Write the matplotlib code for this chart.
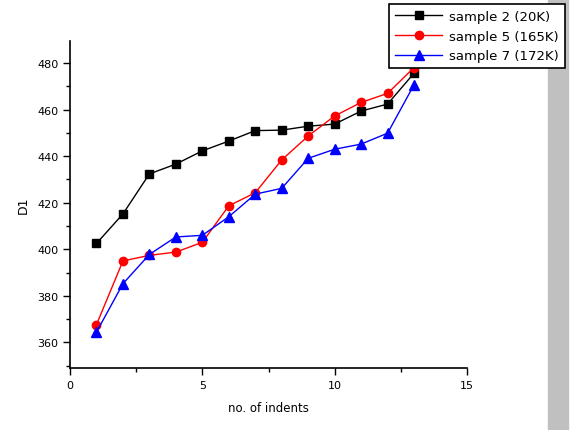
import matplotlib
matplotlib.use("Agg")
import matplotlib.pyplot as plt
from matplotlib.patches import Rectangle
from matplotlib.ticker import MultipleLocator

indents = [1, 2, 3, 4, 5, 6, 7, 8, 9, 10, 11, 12, 13]
sample2 = [402.5, 415.2, 432.4, 436.6, 442.3, 446.5, 451.0, 451.2, 452.9, 453.8, 459.4, 462.4, 475.7]
sample5 = [367.6, 395.0, 397.4, 398.8, 403.0, 418.7, 424.3, 438.4, 448.7, 457.3, 463.1, 467.0, 478.1]
sample7 = [364.4, 385.2, 397.8, 405.3, 406.0, 414.0, 423.7, 426.2, 439.1, 443.0, 445.2, 449.9, 470.7]

plt.rcParams['font.family'] = ['DejaVu Sans']
fig = plt.figure(figsize=(5.76, 4.31), dpi=100)
ax = fig.add_axes([70 / 576, 62 / 431, 397 / 576, 327 / 431])

# grey strip on the right edge
fig.patches.append(Rectangle((548 / 576, 0), 20 / 576, 1, transform=fig.transFigure,
                             color='#c0c0c0', zorder=0))

ax.plot(indents, sample2, color='black', marker='s', markersize=6, lw=1, label='sample 2 (20K)')
ax.plot(indents, sample5, color='red', marker='o', markersize=6, lw=1, label='sample 5 (165K)')
ax.plot(indents, sample7, color='blue', marker='^', markersize=7, lw=1, label='sample 7 (172K)')

ax.set_xlim(0, 15)
ax.set_ylim(349, 489.5)
ax.xaxis.set_major_locator(MultipleLocator(5))
ax.xaxis.set_minor_locator(MultipleLocator(2.5))
ax.yaxis.set_major_locator(MultipleLocator(20))
ax.yaxis.set_minor_locator(MultipleLocator(10))
ax.tick_params(which='major', direction='out', length=5, width=1, labelsize=8)
ax.tick_params(which='minor', direction='out', length=3, width=1)
ax.spines['top'].set_visible(False)
ax.spines['right'].set_visible(False)
for s in ('left', 'bottom'):
    ax.spines[s].set_linewidth(1.2)

ax.set_xlabel('no. of indents', fontsize=8.5, labelpad=8)
ax.set_ylabel('D1', fontsize=9, labelpad=5)

leg = fig.legend(loc='upper left', bbox_to_anchor=(389 / 576, 1 - 5 / 431), borderaxespad=0,
                 fontsize=9.5, fancybox=False, framealpha=1, edgecolor='black',
                 handlelength=3.6, handletextpad=0.5, borderpad=0.45, labelspacing=0.5)
leg.get_frame().set_linewidth(1.2)

fig.savefig('out.png', dpi=100)
